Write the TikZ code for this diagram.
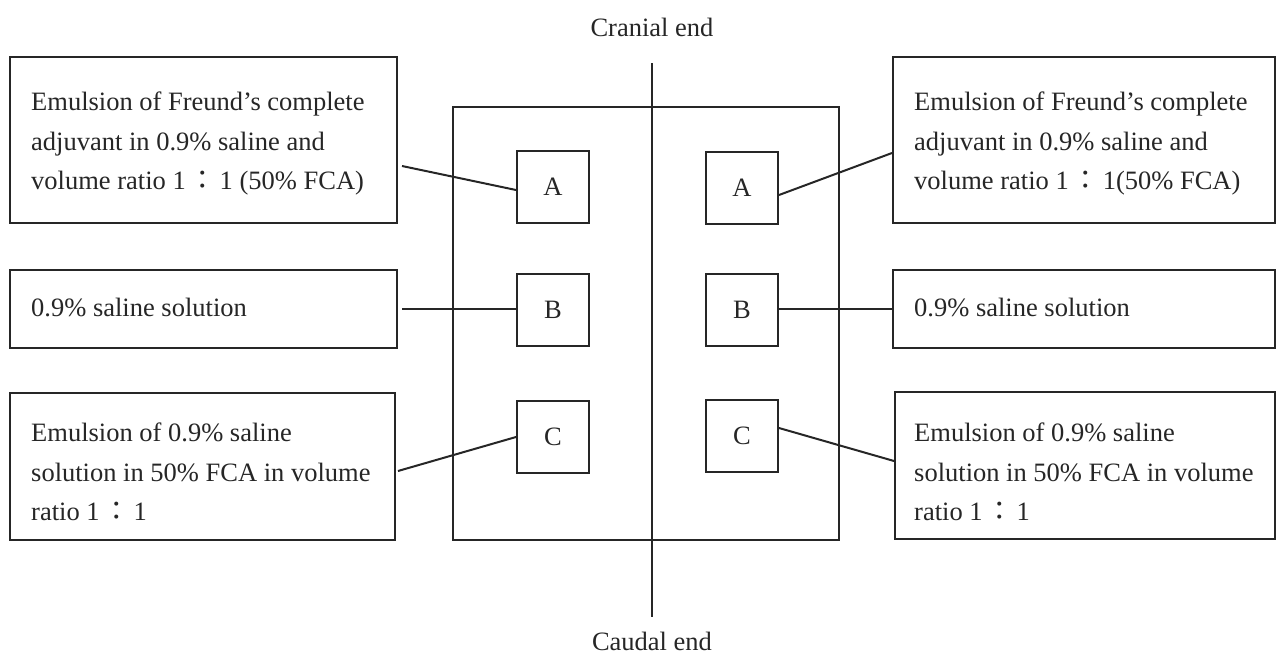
\documentclass[tikz,border=0pt]{standalone}
\usepackage{fontspec}
\setmainfont{Liberation Serif}
\newfontfamily\cjkfont{Noto Sans CJK TC}
\newcommand{\fwc}{\hspace{14pt}\makebox[6pt]{\cjkfont ：}\hspace{14pt}}
\begin{document}
\begin{tikzpicture}[x=1pt,y=-1pt,
  font=\fontsize{26.5}{39.5}\selectfont,
  line/.style={draw=black!85, line width=2pt},
  txtbox/.style={line, rectangle, inner sep=0pt},
  sq/.style={line, rectangle, inner sep=0pt, minimum width=72pt, minimum height=72pt, text=black!85},
  lbl/.style={anchor=west, align=left, inner sep=0pt, text=black!85},
  endlbl/.style={inner sep=0pt, text=black!85}]
\useasboundingbox (0,0) rectangle (1278,662);

% central frame and midline
\node[txtbox, minimum width=386pt, minimum height=433pt] (frame) at (646,323.5) {};
\coordinate (top) at (652,63);
\coordinate (bot) at (652,617);
\draw[line] (top) -- (bot);
\node[endlbl] (cranial) at (652,27) {Cranial end};
\node[endlbl] (caudal) at (652,641) {Caudal end};

% small squares
\node[sq] (lA) at (553,186.5) {A};
\node[sq] (lB) at (553,310) {B};
\node[sq] (lC) at (553,437) {C};
\node[sq] (rA) at (742,188) {A};
\node[sq] (rB) at (742,310) {B};
\node[sq] (rC) at (742,435.5) {C};

% left text boxes
\node[txtbox, minimum width=387pt, minimum height=166pt] (lb1) at (203.5,140) {};
\node[txtbox, minimum width=387pt, minimum height=78pt] (lb2) at (203.5,309) {};
\node[txtbox, minimum width=385pt, minimum height=147pt] (lb3) at (202.5,466.5) {};
\node[lbl] (lt1) at (31,143.5) {Emulsion of Freund’s complete\\adjuvant in 0.9\% saline and\\volume ratio 1\fwc1 (50\% FCA)};
\node[lbl] (lt2) at (31,307) {0.9\% saline solution};
\node[lbl] (lt3) at (31,472) {Emulsion of 0.9\% saline\\solution in 50\% FCA in volume\\ratio 1\fwc1};

% right text boxes
\node[txtbox, minimum width=382pt, minimum height=166pt] (rb1) at (1084,140) {};
\node[txtbox, minimum width=382pt, minimum height=78pt] (rb2) at (1084,309) {};
\node[txtbox, minimum width=380pt, minimum height=147pt] (rb3) at (1085,465.5) {};
\node[lbl] (rt1) at (914,143.5) {Emulsion of Freund’s complete\\adjuvant in 0.9\% saline and\\volume ratio 1\fwc1(50\% FCA)};
\node[lbl] (rt2) at (914,307) {0.9\% saline solution};
\node[lbl] (rt3) at (914,472) {Emulsion of 0.9\% saline\\solution in 50\% FCA in volume\\ratio 1\fwc1};

% connectors
\draw[line] ([xshift=4pt,yshift=-26pt]lb1.east) -- ([yshift=-3.5pt]lA.west);
\draw[line] ([xshift=4pt]lb2.east) -- (lB.west |- lb2.east);
\draw[line] ([xshift=2pt,yshift=-4.5pt]lb3.east) -- (lC.west);
\draw[line] ([yshift=-7pt]rA.east) -- ([yshift=-13pt]rb1.west);
\draw[line] (rB.east |- rb2.west) -- (rb2.west);
\draw[line] ([yshift=7.5pt]rC.east) -- ([yshift=4.5pt]rb3.west);
\end{tikzpicture}
\end{document}
